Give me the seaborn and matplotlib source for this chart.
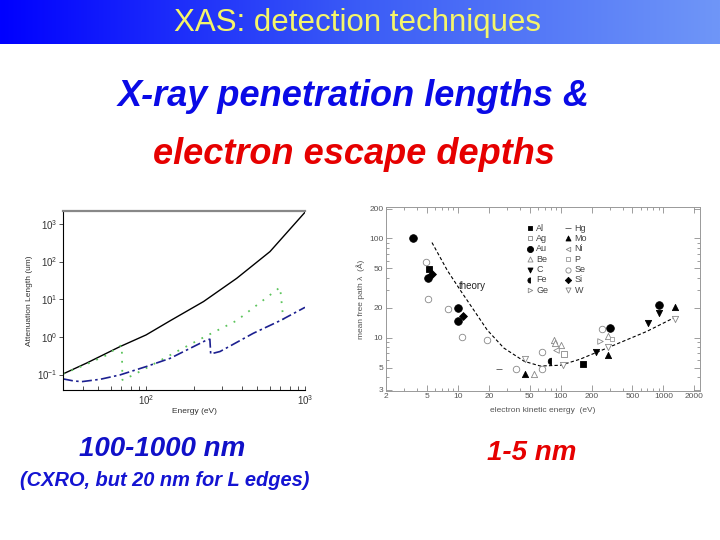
import numpy as np
import matplotlib
matplotlib.use("Agg")
import matplotlib.pyplot as plt
import seaborn as sns
from matplotlib.colors import LinearSegmentedColormap
from matplotlib.markers import MarkerStyle
from matplotlib.ticker import FixedLocator, FixedFormatter, NullFormatter, LogLocator, NullLocator

# left panel: X-ray attenuation length (um) vs photon energy (eV)
energy_black = [30, 42, 68.5, 100, 142, 230, 372, 602, 1000]
atten_black = [0.104, 0.2, 0.553, 1.13, 2.7, 8.7, 36, 184, 2040]

energy_green = [30, 42.4, 56.6, 67, 70.3, 71.0, 83.3, 100, 156, 235, 371, 697, 731]
atten_green = [0.104, 0.19, 0.33, 0.55, 0.6, 0.072, 0.098, 0.148, 0.41, 1.02, 2.7, 20.8, 2.8]

energy_blue = [30, 34.9, 39.4, 51.4, 68.5, 100, 141.6, 241, 252, 255, 292, 473, 697, 1000]
atten_blue = [0.077, 0.068, 0.065, 0.075, 0.098, 0.163, 0.27, 0.83, 0.87, 0.354, 0.41, 1.25, 2.7, 6.1]

# right panel: electron mean free path (A) vs kinetic energy (eV)
theory_energy = [5.6, 7.9, 10.6, 14.3, 19.3, 28, 44.3, 63.5, 100, 155, 327, 689, 1297]
theory_mfp = [91, 47.7, 30, 19, 12, 7.9, 5.8, 5.2, 5.3, 6.1, 8.4, 11.6, 16.1]

elements = ["Al", "Ag", "Au", "Be", "C", "Fe", "Ge", "Hg", "Mo", "Ni", "P", "Se", "Si", "W"]
elem_energy = {
    "Al": [5.2, 165], "Ag": [109], "Au": [3.66, 5.1, 10, 10, 303, 908],
    "Be": [54.7, 85.5, 88, 100, 292], "C": [222, 714, 914], "Fe": [80.5],
    "Ge": [240], "Hg": [25], "Mo": [44.7, 292, 1297], "Ni": [90], "P": [315],
    "Se": [4.93, 5.15, 8.0, 11.0, 19.3, 37.2, 65.9, 65.9, 252],
    "Si": [5.6, 11.3], "W": [45.4, 105, 292, 1297],
}
elem_mfp = {
    "Al": [49.4, 5.5], "Ag": [6.8], "Au": [100, 40, 20, 14.6, 12.7, 21.3],
    "Be": [4.35, 9.6, 8.8, 8.4, 10.5], "C": [7.25, 14.2, 17.9], "Fe": [5.9],
    "Ge": [9.3], "Hg": [4.9], "Mo": [4.35, 6.76, 20.5], "Ni": [7.5], "P": [9.7],
    "Se": [57.7, 24.8, 19.5, 10.2, 9.55, 4.8, 7.2, 4.9, 12.3],
    "Si": [44.2, 16.6], "W": [6.18, 5.3, 8.0, 15.5],
}

mfp_ticks = [3, 5, 10, 20, 50, 100, 200]
ke_ticks = [2, 5, 10, 20, 50, 100, 200, 500, 1000, 2000]

sns.set_style("ticks")
plt.rcParams['font.family'] = ['Liberation Sans', 'DejaVu Sans']

W, H = 720, 540
fig = plt.figure(figsize=(7.2, 5.4), dpi=100)

def fx(px):
    return px / W

def fy(py):
    return 1 - py / H

# title bar with blue gradient
bar = fig.add_axes([0, fy(44), 1, 44 / H])
cmap = LinearSegmentedColormap.from_list("bar", ["#0000ff", "#3b5cf6", "#6f96f8"])
bar.imshow(np.linspace(0, 1, 256)[None, :], cmap=cmap, aspect="auto", extent=[0, 1, 0, 1])
bar.axis("off")
fig.text(fx(358), fy(23.5), "XAS: detection techniques", color="#f5f56a",
         fontsize=22.5, ha="center", va="center")

fig.text(fx(354), fy(96), "X-ray penetration lengths &", color="#0a0ae6",
         fontsize=26, fontweight="bold", fontstyle="italic", ha="center", va="center")
fig.text(fx(354), fy(155), "electron escape depths", color="#e60000",
         fontsize=26, fontweight="bold", fontstyle="italic", ha="center", va="center")
fig.text(fx(162), fy(449), "100-1000 nm", color="#1010c8",
         fontsize=20, fontweight="bold", fontstyle="italic", ha="center", va="center")
fig.text(fx(165), fy(481), "(CXRO, but 20 nm for L edges)", color="#1414d2",
         fontsize=14.4, fontweight="bold", fontstyle="italic", ha="center", va="center")
fig.text(fx(532), fy(453), "1-5 nm", color="#e60000",
         fontsize=20, fontweight="bold", fontstyle="italic", ha="center", va="center")

# ---- left panel ----
ax1 = fig.add_axes([fx(63), fy(390), fx(305) - fx(63), (390 - 211) / H])
ax1.set_xscale("log")
ax1.set_yscale("log")
sns.lineplot(x=energy_black, y=atten_black, ax=ax1, color="black", lw=1.0,
             sort=False, estimator=None)
sns.lineplot(x=energy_green, y=atten_green, ax=ax1, color="#5cc45c", lw=1.3,
             linestyle=(0, (1, 4)), sort=False, estimator=None)
sns.lineplot(x=energy_blue, y=atten_blue, ax=ax1, color="#1c2090", lw=1.2,
             linestyle=(0, (6, 2, 1.5, 2)), sort=False, estimator=None)
ax1.set_xlim(30, 1000)
ax1.set_ylim(0.039, 2200)
ax1.yaxis.set_major_locator(LogLocator(base=10, numticks=10))
ax1.yaxis.set_minor_locator(NullLocator())
ax1.xaxis.set_minor_locator(LogLocator(base=10, subs=np.arange(2, 10), numticks=10))
ax1.xaxis.set_minor_formatter(NullFormatter())
ax1.tick_params(axis="both", which="both", labelsize=7, colors="#333333", width=0.6)
ax1.tick_params(axis="y", which="major", length=3, direction="out", pad=1)
ax1.tick_params(axis="x", which="both", length=3, direction="in", pad=2)
ax1.set_xlabel("Energy (eV)", fontsize=6, color="#333333")
ax1.xaxis.set_label_coords((194 - 63) / 242, -(408 - 390) / 179)
ax1.set_ylabel("Attenuation Length (um)", fontsize=6, color="#333333")
ax1.yaxis.set_label_coords(-(63 - 33) / 242, 0.5)
ax1.spines["right"].set_visible(False)
ax1.spines["top"].set_color("#888888")
ax1.spines["top"].set_linewidth(1.6)
for s in ["left", "bottom"]:
    ax1.spines[s].set_linewidth(0.8)
    ax1.spines[s].set_color("black")

# ---- right panel ----
ax2 = fig.add_axes([fx(386), fy(390.5), fx(700) - fx(386), (390.5 - 207.5) / H])
ax2.set_xscale("log")
ax2.set_yscale("log")

styles = {
    "Al": dict(marker="s", fc="black", ec="black", s=18),
    "Ag": dict(marker="s", fc="white", ec="#888888", s=16),
    "Au": dict(marker="o", fc="black", ec="black", s=30),
    "Be": dict(marker="^", fc="white", ec="#888888", s=20),
    "C": dict(marker="v", fc="black", ec="black", s=20),
    "Fe": dict(marker=MarkerStyle("o", fillstyle="left"), fc="black", ec="black", s=22),
    "Ge": dict(marker=">", fc="white", ec="#888888", s=16),
    "Hg": dict(marker="_", fc="#555555", ec="#555555", s=22),
    "Mo": dict(marker="^", fc="black", ec="black", s=20),
    "Ni": dict(marker="<", fc="white", ec="#888888", s=16),
    "P": dict(marker="s", fc="white", ec="#999999", s=12),
    "Se": dict(marker="o", fc="white", ec="#888888", s=22),
    "Si": dict(marker="D", fc="black", ec="black", s=16),
    "W": dict(marker="v", fc="white", ec="#888888", s=20),
}
for el in elements:
    st = styles[el]
    sns.scatterplot(x=elem_energy[el], y=elem_mfp[el], ax=ax2, marker=st["marker"],
                    facecolor=st["fc"], edgecolor=st["ec"], s=st["s"],
                    linewidth=0.6, label=el, zorder=3)

sns.lineplot(x=theory_energy, y=theory_mfp, ax=ax2, color="black", lw=0.8,
             linestyle=(0, (3, 2)), sort=False, estimator=None)
ax2.text(10.2, 33, "theory", fontsize=7, color="#222222", ha="left", va="center")

ax2.set_xlim(2, 2270)
ax2.set_ylim(2.95, 205)
ax2.xaxis.set_major_locator(FixedLocator(ke_ticks))
ax2.xaxis.set_major_formatter(FixedFormatter([str(t) for t in ke_ticks]))
ax2.xaxis.set_minor_locator(LogLocator(base=10, subs=np.arange(2, 10), numticks=10))
ax2.xaxis.set_minor_formatter(NullFormatter())
ax2.yaxis.set_major_locator(FixedLocator(mfp_ticks))
ax2.yaxis.set_major_formatter(FixedFormatter([str(t) for t in mfp_ticks]))
ax2.yaxis.set_minor_locator(LogLocator(base=10, subs=np.arange(2, 10), numticks=10))
ax2.yaxis.set_minor_formatter(NullFormatter())
ax2.tick_params(axis="both", which="both", direction="in", top=True, right=True,
                labelsize=6, colors="#777777", labelcolor="#555555", width=0.5, pad=2)
ax2.tick_params(which="major", length=4)
ax2.tick_params(which="minor", length=2.5)
for s in ax2.spines.values():
    s.set_color("#999999")
    s.set_linewidth(0.7)
ax2.set_xlabel("electron kinetic energy  (eV)", fontsize=6, color="#555555", labelpad=5)
ax2.set_ylabel("mean free path \u03bb  (\u00c5)", fontsize=6, color="#555555", labelpad=3)

ax2.legend(ncol=2, loc="upper left", bbox_to_anchor=(fx(521), fy(219)),
           bbox_transform=fig.transFigure, frameon=False, fontsize=6.5,
           handletextpad=0.2, columnspacing=1.7, labelspacing=0.15,
           handlelength=1.0, borderpad=0, labelcolor="#444444", markerscale=0.8)

fig.savefig("out.png", dpi=100)
